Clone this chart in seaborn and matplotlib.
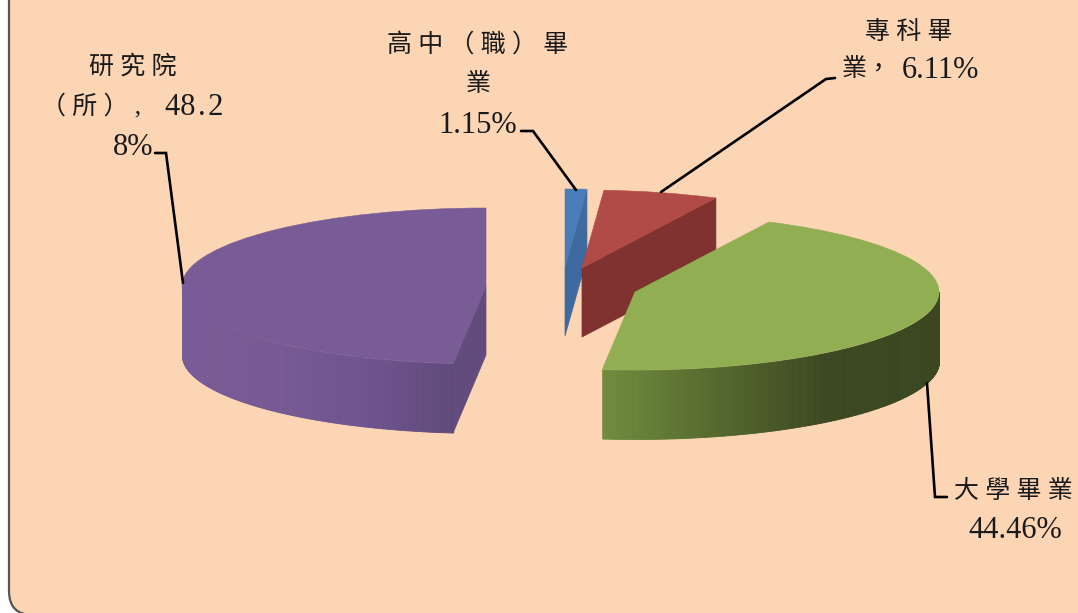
import numpy as np
import matplotlib
matplotlib.use("Agg")
import matplotlib.pyplot as plt
from matplotlib.patches import FancyBboxPatch
from matplotlib.transforms import Affine2D
import seaborn as sns

# dane z wykresu
categories = ['高中（職）畢業', '專科畢業', '大學畢業', '研究院（所）']
shares = [1.15, 6.11, 44.46, 48.28]

# fragmenty etykiet (tekst zawinięty jak na oryginale)
label_texts = ['高 中 （ 職 ） 畢', '業', '1.15%',
               '專 科 畢', '業，', '6.11%',
               '大 學 畢 業', '44.46%',
               '研 究 院', '（ 所 ） ,', '48\u200a.\u200a2', '8%']

# układ etykiet: x, linia bazowa, rozmiar, wyrównanie
LABEL_LAYOUT = [(478, 52, 18, 'center'), (478, 91, 18, 'center'), (478, 133, 22, 'center'),
                (909, 39, 18, 'center'), (842, 76, 18, 'left'), (940, 78, 22, 'center'),
                (1013, 498, 18, 'center'), (1015, 538, 22, 'center'),
                (133, 74, 18, 'center'), (41, 113, 18, 'left'), (194, 115, 22, 'center'), (133, 155, 22, 'center')]

# kolory: wierzch, ściana cięcia, gradient ściany zewnętrznej
TOP_COLORS = ['#4A7DB8', '#B04B47', '#92AE53', '#795C96']
CUT_COLORS = ['#3F6A9F', '#7F3230', '#6E8A3C', '#624C7E']
WALL_COLORS = [
    ['#3F6A9F', '#3F6A9F'],
    ['#7F3230', '#7F3230'],
    ['#708C3E', '#55692E', '#3B4821', '#3A4720'],
    ['#795C96', '#775A93', '#6E5490', '#604A7B'],
]

# układ w pikselach obrazu
RX, RY, DEPTH = 304, 78, 69
CENTERS = [(565, 267), (582, 268), (635, 292), (486, 286)]
LEADERS = [
    [(521, 131), (533, 131), (576, 190)],
    [(835, 78), (826, 79), (661, 192)],
    [(947, 497), (935, 497), (927, 383)],
    [(155, 153), (166, 153), (183, 283)],
]

sns.set_style("white")
plt.rcParams['font.family'] = ['Liberation Serif', 'Noto Sans CJK TC', 'DejaVu Sans']

fig = plt.figure(figsize=(10.78, 6.13), dpi=100)
ax = fig.add_axes([0, 0, 1, 1])

wedges, _ = ax.pie(shares, startangle=90, counterclock=False, colors=TOP_COLORS, radius=1)
ax.set_aspect('auto')
ax.set_xlim(0, 1078)
ax.set_ylim(613, 0)
ax.axis('off')

# tło z zaokrąglonym rogiem
ax.add_patch(FancyBboxPatch((9, -60), 1200, 675, boxstyle="round,pad=0,rounding_size=24",
                            facecolor='#FCD5B5', edgecolor='#555555', linewidth=1.6, zorder=0))

edges = np.concatenate([[0], np.cumsum(shares)]) / np.sum(shares) * 360


def rim(center, theta):
    # punkt na obwodzie, theta liczona od godziny 12 zgodnie z zegarem
    rad = np.radians(theta)
    return center[0] + RX * np.sin(rad), center[1] - RY * np.cos(rad)


def draw_wall(center, start, end, stops, z):
    # ściana zewnętrzna jako wąskie paski z gradientem po x
    lo, hi = max(start, 90), min(end, 270)
    if lo >= hi:
        return
    thetas = np.linspace(lo, hi, 161)
    xs, ys = rim(center, thetas)
    pal = sns.blend_palette(stops, 120)
    for i in range(len(thetas) - 1):
        frac = (xs[i] + xs[i + 1]) / 2 - xs.min()
        col = pal[min(int(frac / (xs.max() - xs.min()) * 120), 119)]
        ax.fill_between(xs[i:i + 2], ys[i:i + 2], ys[i:i + 2] + DEPTH, color=col, linewidth=0.6, zorder=z)


def draw_cut(center, theta, color, z):
    # płaska ściana cięcia
    x, y = rim(center, theta)
    ax.fill([center[0], x, x, center[0]], [center[1], y, y + DEPTH, center[1] + DEPTH],
            color=color, linewidth=0.5, zorder=z)


for i, wedge in enumerate(wedges):
    center = CENTERS[i]
    start, end = edges[i], edges[i + 1]
    z = 1 + i
    if i == 3:
        z = 0.5
    draw_wall(center, start, end, WALL_COLORS[i], z)
    if np.sin(np.radians(end)) > 1e-6:
        draw_cut(center, end, CUT_COLORS[i], z + 0.1)
    if np.sin(np.radians(start)) < -1e-6:
        draw_cut(center, start, CUT_COLORS[i], z + 0.1)
    wedge.set_transform(Affine2D().scale(RX, RY).scale(1, -1).translate(*center) + ax.transData)
    wedge.set_zorder(z + 0.2)
    wedge.set_edgecolor(TOP_COLORS[i])
    wedge.set_linewidth(0.4)

# linie odniesienia i etykiety
for pts in LEADERS:
    ax.plot(*zip(*pts), color='black', linewidth=1.9, solid_joinstyle='miter', zorder=8)

for text, (x, y, size, align) in zip(label_texts, LABEL_LAYOUT):
    ax.text(x, y, text, ha=align, va='baseline', fontsize=size, color='#1a1a1a', zorder=9)

fig.savefig('out.png', dpi=100)
